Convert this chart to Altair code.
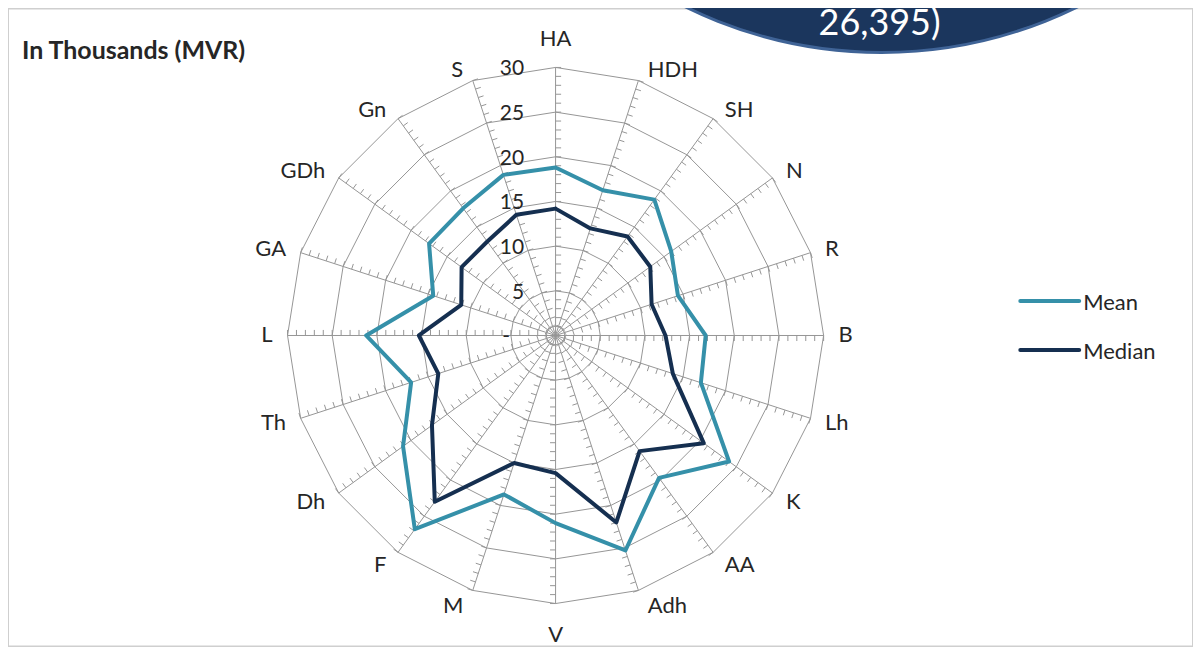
import altair as alt
import pandas as pd

# ---------------- data ----------------
categories = ["HA", "HDH", "SH", "N", "R", "B", "Lh", "K", "AA", "Adh",
              "V", "M", "F", "Dh", "Th", "L", "GA", "GDh", "Gn", "S"]
mean_values = [18.8, 17.1, 18.8, 16.0, 14.4, 16.8, 17.1, 24.0, 19.7, 25.3,
               21.0, 18.7, 26.8, 21.1, 17.0, 21.2, 14.4, 17.5, 17.6, 18.9]
median_values = [14.2, 12.6, 13.7, 13.1, 11.3, 12.3, 13.8, 20.5, 16.0, 22.0,
                 15.4, 15.0, 23.0, 17.1, 13.8, 15.3, 11.1, 13.0, 13.0, 14.2]
ring_levels = [5, 10, 15, 20, 25, 30]
axis_tick_values = [0, 5, 10, 15, 20, 25, 30]
axis_tick_labels = ["-", "5", "10", "15", "20", "25", "30"]
series_names = ["Mean", "Median"]
series_colors = ["#3590A9", "#152F50"]
title_text = "In Thousands (MVR)"
overlay_text = "26,395)"

# ---------------- layout ----------------
N = len(categories)
RMAX = 30
PX = 8.95                      # pixels per thousand
W, H = 1187, 639
CXP, CYP = 548.5, 327.5        # radar centre in plot pixels
XDOM = [-CXP / PX, (W - CXP) / PX]
YDOM = [-(H - CYP) / PX, CYP / PX]
GRID = "#969696"
FONT = "Lato"
TXT = "#262626"
LBL_SIZE = 22


def px_to_x(px):
    return (px - 8 - CXP) / PX


def py_to_y(py):
    return (CYP - (py - 8)) / PX


xs = alt.Scale(domain=XDOM, nice=False, zero=False)
ys = alt.Scale(domain=YDOM, nice=False, zero=False)
ANG = f"(2*PI*datum.idx/{N})"


def X(f):
    return alt.X(f"{f}:Q", scale=xs, axis=None)


def Y(f):
    return alt.Y(f"{f}:Q", scale=ys, axis=None)


# rings
ring_df = pd.DataFrame([{"ring": r, "idx": i, "value": r}
                        for r in ring_levels for i in range(N + 1)])
rings = alt.Chart(ring_df).transform_calculate(
    x=f"datum.value*sin({ANG})", y=f"datum.value*cos({ANG})"
).mark_line(color=GRID, strokeWidth=1).encode(
    x=X("x"), y=Y("y"), detail="ring:N", order="idx:Q")

# spokes
spoke_df = pd.DataFrame({"idx": list(range(N))})
spokes = alt.Chart(spoke_df).transform_calculate(
    x0="0", y0="0",
    x1=f"{RMAX}*sin({ANG})", y1=f"{RMAX}*cos({ANG})"
).mark_rule(color=GRID, strokeWidth=1).encode(
    x=X("x0"), y=Y("y0"), x2="x1:Q", y2="y1:Q")

# minor ticks every unit, on the clockwise side of each spoke
TL = 0.62
tick_df = pd.DataFrame([{"idx": i, "v": v} for i in range(N) for v in range(1, RMAX + 1)])
ticks = alt.Chart(tick_df).transform_calculate(
    x0=f"datum.v*sin({ANG})", y0=f"datum.v*cos({ANG})"
).transform_calculate(
    x1=f"datum.x0+{TL}*cos({ANG})", y1=f"datum.y0-{TL}*sin({ANG})"
).mark_rule(color=GRID, strokeWidth=1).encode(
    x=X("x0"), y=Y("y0"), x2="x1:Q", y2="y1:Q")

# radial value labels
lab_df = pd.DataFrame({"value": axis_tick_values, "label": axis_tick_labels})
axis_labels = alt.Chart(lab_df).transform_calculate(
    lx=f"datum.value==0 ? {px_to_x(511)} : {px_to_x(525)}"
).mark_text(align="right", baseline="middle", dy=2, font=FONT, fontSize=21, color=TXT).encode(
    x=X("lx"), y=Y("value"), text="label:N")

# category labels (Excel-like placement around the outer ring)
cat_df = pd.DataFrame({"idx": list(range(N)), "cat": categories})
side_calc = dict(
    x=f"{RMAX}*sin({ANG}) + (sin({ANG})>0 ? 1 : -1)*(7 + 8*abs(sin({ANG})))/{PX}",
    y=f"{RMAX}*cos({ANG}) + (cos({ANG})>0 ? 1.25 : 1.8)*cos({ANG})",
)
right_labels = alt.Chart(cat_df).transform_filter(
    "datum.idx >= 1 && datum.idx <= 9").transform_calculate(**side_calc).mark_text(
    align="left", baseline="middle", font=FONT, fontSize=LBL_SIZE, color=TXT).encode(
    x=X("x"), y=Y("y"), text="cat:N")
left_labels = alt.Chart(cat_df).transform_filter(
    "datum.idx >= 11").transform_calculate(**side_calc).mark_text(
    align="right", baseline="middle", font=FONT, fontSize=LBL_SIZE, color=TXT).encode(
    x=X("x"), y=Y("y"), text="cat:N")
top_label = alt.Chart(cat_df).transform_filter("datum.idx == 0").transform_calculate(
    x="0", y=f"{RMAX} + 21/{PX}").mark_text(
    align="center", baseline="alphabetic", font=FONT, fontSize=LBL_SIZE, color=TXT).encode(
    x=X("x"), y=Y("y"), text="cat:N")
bottom_label = alt.Chart(cat_df).transform_filter(f"datum.idx == {N // 2}").transform_calculate(
    x="0", y=f"-{RMAX} - 39/{PX}").mark_text(
    align="center", baseline="alphabetic", font=FONT, fontSize=LBL_SIZE, color=TXT).encode(
    x=X("x"), y=Y("y"), text="cat:N")

# data series
rows = []
for name, vals in zip(series_names, [mean_values, median_values]):
    for i in range(N + 1):
        rows.append({"series": name, "idx": i, "value": vals[i % N]})
series_df = pd.DataFrame(rows)
color = alt.Color("series:N", scale=alt.Scale(domain=series_names, range=series_colors), legend=None)
lines = alt.Chart(series_df).transform_calculate(
    x=f"datum.value*sin({ANG})", y=f"datum.value*cos({ANG})"
).mark_line(strokeWidth=4, strokeJoin="round", strokeCap="round").encode(
    x=X("x"), y=Y("y"), color=color, detail="series:N", order="idx:Q")

# legend
leg_df = pd.DataFrame({
    "series": series_names,
    "x1": [px_to_x(1022)] * 2,
    "x2": [px_to_x(1081)] * 2,
    "tx": [px_to_x(1085)] * 2,
    "y": [py_to_y(301), py_to_y(350)],
})
leg_rules = alt.Chart(leg_df).mark_rule(strokeWidth=4, strokeCap="round").encode(
    x=X("x1"), x2="x2:Q", y=Y("y"), color=color)
leg_text = alt.Chart(leg_df).mark_text(align="left", baseline="middle", dy=2,
                                       font=FONT, fontSize=LBL_SIZE, color=TXT).encode(
    x=X("tx"), y=Y("y"), text="series:N")

# title
title_df = pd.DataFrame({"t": [title_text]})
title = alt.Chart(title_df).mark_text(align="left", baseline="middle", font=FONT,
                                      fontSize=25, fontWeight="bold", color="#262626").encode(
    x=alt.value(14), y=alt.value(43), text="t:N")

# overlay bubble (cropped at the top of the picture)
RB = 445
bubble = alt.Chart(title_df).mark_point(shape="circle", size=(2 * RB) ** 2, filled=True,
                                        fill="#1B365D", stroke="#3F6396", strokeWidth=3,
                                        opacity=1, fillOpacity=1, strokeOpacity=1).encode(
    x=alt.value(883 - 8), y=alt.value(52 - RB - 8))
ov_df = pd.DataFrame({"t": [overlay_text]})
bubble_text = alt.Chart(ov_df).mark_text(align="center", baseline="alphabetic", font=FONT,
                                         fontSize=36, color="white").encode(
    x=alt.value(881 - 8), y=alt.value(35 - 8), text="t:N")

chart = alt.layer(
    rings, spokes, ticks, axis_labels,
    right_labels, left_labels, top_label, bottom_label,
    lines, leg_rules, leg_text, title, bubble, bubble_text
).properties(
    width=W, height=H, padding=0,
    autosize=alt.AutoSizeParams(type="none"),
).configure_view(stroke="#cfcfcf", strokeWidth=2)

chart.save("out.html", embed_options={"renderer": "svg", "actions": False})
